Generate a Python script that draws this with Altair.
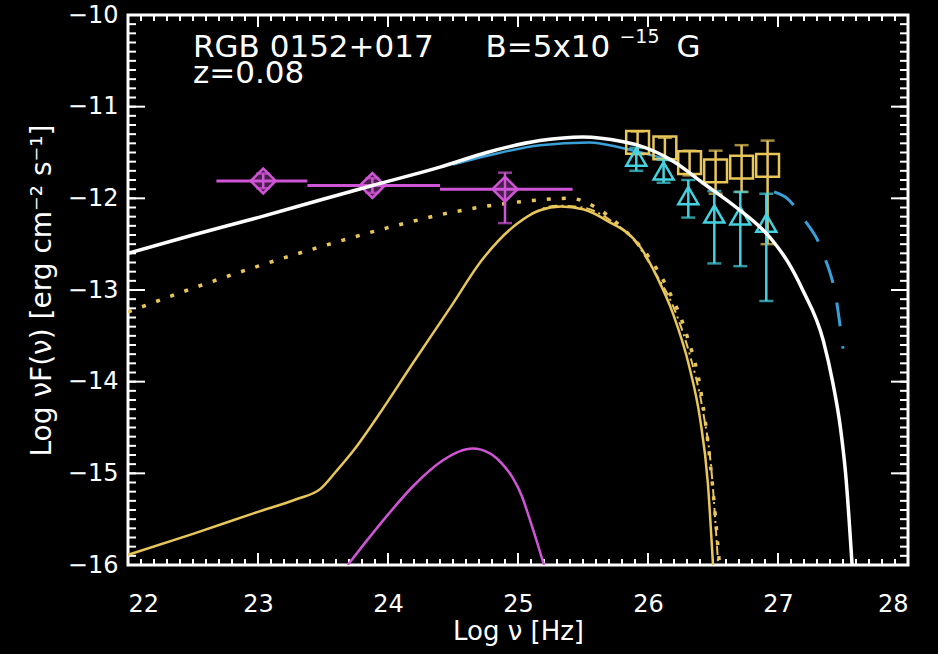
import altair as alt
import pandas as pd

# ---------------- model curves: log nu [Hz] vs log nuF(nu) [erg cm^-2 s^-1] ----------------
total_x = [22.0, 22.5, 23.0, 23.5, 23.88, 24.4, 24.76, 25.17, 25.5, 25.8, 25.92, 26.2, 26.42,
           26.68, 26.94, 27.07, 27.19, 27.35, 27.42, 27.48, 27.52, 27.57]
total_y = [-12.60, -12.40, -12.21, -12.01, -11.86, -11.66, -11.50, -11.37, -11.33, -11.38, -11.42,
           -11.60, -11.83, -12.10, -12.43, -12.68, -13.00, -13.56, -14.00, -14.50, -15.00, -16.00]

cascade_x = [22.0, 22.5, 23.0, 23.3, 23.48, 23.6, 23.73, 23.92, 24.2, 24.48, 24.73, 24.99, 25.17,
             25.33, 25.5, 25.68, 25.94, 26.07, 26.19, 26.32, 26.4, 26.46, 26.5]
cascade_y = [-15.89, -15.66, -15.42, -15.28, -15.17, -14.98, -14.76, -14.38, -13.78, -13.19, -12.66,
             -12.28, -12.13, -12.09, -12.12, -12.24, -12.53, -12.86, -13.25, -13.85, -14.40, -15.10,
             -16.00]

primary_x = [22.0, 22.5, 23.0, 23.5, 24.0, 24.5, 25.0, 25.4, 25.6, 25.8, 26.0, 26.15, 26.3, 26.4,
             26.48, 26.55]
primary_y = [-13.24, -12.98, -12.74, -12.52, -12.32, -12.15, -12.04, -12.00, -12.10, -12.32, -12.63,
             -12.98, -13.50, -14.05, -14.90, -16.00]

dashdot_x = [25.1, 25.3, 25.5, 25.7, 25.9, 26.05, 26.2, 26.32, 26.42, 26.49, 26.54]
dashdot_y = [-12.17, -12.08, -12.10, -12.23, -12.47, -12.80, -13.20, -13.70, -14.30, -15.00, -16.00]

echo_x = [23.69, 24.0, 24.2, 24.42, 24.55, 24.65, 24.78, 24.88, 24.96, 25.03, 25.09, 25.14, 25.2]
echo_y = [-16.0, -15.45, -15.13, -14.86, -14.76, -14.73, -14.78, -14.90, -15.05, -15.25, -15.50,
          -15.72, -16.0]

absorbed_x = [24.5, 24.78, 25.17, 25.55, 25.8, 26.0, 26.2]
absorbed_y = [-11.63, -11.53, -11.42, -11.39, -11.45, -11.52, -11.60]

intrinsic_x = [26.97, 27.07, 27.19, 27.35, 27.45, 27.5]
intrinsic_y = [-11.93, -12.00, -12.21, -12.61, -13.12, -13.64]

# ---------------- measurements ----------------
lat_x = [23.04, 23.88, 24.90]
lat_y = [-11.81, -11.86, -11.90]
lat_xlo = [22.68, 23.38, 24.40]
lat_xhi = [23.38, 24.40, 25.42]
lat_ylo = [-11.89, -11.94, -12.27]
lat_yhi = [-11.73, -11.78, -11.72]

sq_x = [25.92, 26.13, 26.32, 26.52, 26.72, 26.92]
sq_y = [-11.39, -11.45, -11.61, -11.70, -11.66, -11.64]
sq_yhi = [-11.27, -11.34, -11.48, -11.48, -11.42, -11.37]
sq_ylo = [-11.52, -11.57, -11.75, -11.95, -11.93, -12.50]

tri_x = [25.91, 26.12, 26.31, 26.51, 26.71, 26.91]
tri_y = [-11.55, -11.70, -11.97, -12.17, -12.19, -12.27]
tri_yhi = [-11.45, -11.58, -11.80, -11.92, -11.93, -11.95]
tri_ylo = [-11.70, -11.83, -12.21, -12.71, -12.74, -13.12]

x_major = [22, 23, 24, 25, 26, 27, 28]
y_major = [-16, -15, -14, -13, -12, -11, -10]
x_minor = [round(22 + 0.1 * i, 1) for i in range(61)]
y_minor = [round(-16 + 0.1 * i, 1) for i in range(61)]

notes = [["RGB 0152+017", "z=0.08"], "B=5x10", "\u221215", "G"]

FONT = "DejaVu Sans"
WHITE = "#ffffff"
GOLD = "#e8c65a"
MAGENTA = "#cf55d6"
CYAN = "#45d2e0"
BLUE = "#3a9fd6"
W, H = 780, 550

xs = alt.Scale(domain=[22, 28], nice=False, zero=False)
ys = alt.Scale(domain=[-16, -10], nice=False, zero=False)


def xq(field, axis=None):
    return alt.X(field, type="quantitative", scale=xs, axis=axis, title=None)


def yq(field, axis=None):
    return alt.Y(field, type="quantitative", scale=ys, axis=axis, title=None)


def curve(xv, yv, color, width, dash=None):
    df = pd.DataFrame({"x": xv, "y": yv})
    kw = dict(color=color, strokeWidth=width, clip=True, interpolate="monotone")
    if dash:
        kw["strokeDash"] = dash
    return alt.Chart(df).mark_line(**kw).encode(x=xq("x"), y=yq("y"))


# ---------------- axes: tick labels and titles (carried by an invisible layer) ----------------
x_label_axis = alt.Axis(orient="bottom", values=x_major, format="d", ticks=False, tickSize=0,
                        domain=False, grid=False, labelPadding=27, labelFont=FONT,
                        labelFontSize=24, labelColor=WHITE, title="Log \u03bd [Hz]",
                        titleFont=FONT, titleFontSize=26, titleFontWeight="normal",
                        titleColor=WHITE, titlePadding=2)
y_label_axis = alt.Axis(orient="left", values=y_major, format="d", ticks=False, tickSize=0,
                        domain=False, grid=False, labelPadding=10, labelFont=FONT,
                        labelFontSize=24, labelColor=WHITE,
                        title="Log \u03bdF(\u03bd) [erg cm\u207b\u00b2 s\u207b\u00b9]",
                        titleFont=FONT, titleFontSize=28, titleFontWeight="normal",
                        titleColor=WHITE, titlePadding=11)

axis_carrier = alt.Chart(pd.DataFrame({"x": [22.0], "y": [-16.0]})).mark_point(opacity=0).encode(
    x=xq("x", x_label_axis), y=yq("y", y_label_axis))


# ---------------- inward ticks on all four sides ----------------
def xticks(values, y0, y1):
    return alt.Chart(pd.DataFrame({"v": values})).mark_rule(color=WHITE, strokeWidth=2).encode(
        x=xq("v"), y=alt.value(y0), y2=alt.value(y1))


def yticks(values, x0, x1):
    return alt.Chart(pd.DataFrame({"v": values})).mark_rule(color=WHITE, strokeWidth=2).encode(
        y=yq("v"), x=alt.value(x0), x2=alt.value(x1))


frame = [
    xticks(x_major, H, H - 12),
    xticks(x_minor, H, H - 6),
    xticks(x_major, 0, 12),
    xticks(x_minor, 0, 6),
    yticks(y_major, 0, 17),
    yticks(y_minor, 0, 8),
    yticks(y_major, W, W - 17),
    yticks(y_minor, W, W - 8),
]

# ---------------- model layers ----------------
cascade = curve(cascade_x, cascade_y, GOLD, 2.5)
primary = curve(primary_x, primary_y, GOLD, 3.5, [4, 11])
dashdot = curve(dashdot_x, dashdot_y, GOLD, 2, [9, 4, 2, 4])
echo = curve(echo_x, echo_y, MAGENTA, 2.5)
absorbed = curve(absorbed_x, absorbed_y, BLUE, 2.5)
intrinsic = curve(intrinsic_x, intrinsic_y, BLUE, 3, [24, 20])
total = curve(total_x, total_y, WHITE, 3.5)

# ---------------- data layers ----------------
lat = pd.DataFrame({"x": lat_x, "y": lat_y, "xlo": lat_xlo, "xhi": lat_xhi,
                    "ylo": lat_ylo, "yhi": lat_yhi})
lat_caps = pd.DataFrame({"x": lat_x * 2, "y": lat_ylo + lat_yhi})
sq = pd.DataFrame({"x": sq_x, "y": sq_y, "ylo": sq_ylo, "yhi": sq_yhi})
sq_caps = pd.DataFrame({"x": sq_x * 2, "y": sq_ylo + sq_yhi})
tri = pd.DataFrame({"x": tri_x, "y": tri_y, "ylo": tri_ylo, "yhi": tri_yhi})
tri_caps = pd.DataFrame({"x": tri_x * 2, "y": tri_ylo + tri_yhi})


def vbars(df, color):
    return alt.Chart(df).mark_rule(color=color, strokeWidth=2.5, clip=True).encode(
        x=xq("x"), y=yq("ylo"), y2="yhi")


def caps(df, color):
    return alt.Chart(df).mark_tick(color=color, orient="horizontal", size=14, thickness=2.5,
                                   clip=True).encode(x=xq("x"), y=yq("y"))


lat_h = alt.Chart(lat).mark_rule(color=MAGENTA, strokeWidth=3, clip=True).encode(
    x=xq("xlo"), x2="xhi", y=yq("y"))
lat_pts = alt.Chart(lat).mark_point(shape="diamond", size=620, filled=True, fill=MAGENTA,
                                    fillOpacity=0.35, stroke=MAGENTA, strokeWidth=2.5,
                                    clip=True).encode(x=xq("x"), y=yq("y"))
sq_pts = alt.Chart(sq).mark_point(shape="square", size=520, filled=False, color=GOLD,
                                  strokeWidth=2.5, opacity=1, clip=True).encode(x=xq("x"), y=yq("y"))
tri_pts = alt.Chart(tri).mark_point(shape="triangle-up", size=400, filled=False, color=CYAN,
                                    strokeWidth=2.5, opacity=1, clip=True).encode(x=xq("x"), y=yq("y"))


# ---------------- annotation ----------------
def note(text, x, y, size, line_height=None):
    kw = dict(text=text, align="left", baseline="alphabetic", font=FONT, fontSize=size,
              color=WHITE)
    if line_height:
        kw["lineHeight"] = line_height
    return alt.Chart(pd.DataFrame({"a": [0]})).mark_text(**kw).encode(
        x=alt.XDatum(x, scale=xs, axis=None), y=alt.YDatum(y, scale=ys, axis=None))


annotations = [
    note(notes[0], 22.5, -10.455, 31, 26.5),
    note(notes[1], 24.75, -10.455, 31),
    note(notes[2], 25.78, -10.305, 19),
    note(notes[3], 26.22, -10.455, 31),
]

layers = [axis_carrier] + frame + [
    primary, dashdot, cascade, echo, absorbed, intrinsic,
    vbars(sq, GOLD), caps(sq_caps, GOLD), sq_pts,
    vbars(tri, CYAN), caps(tri_caps, CYAN), tri_pts,
    lat_h, vbars(lat, MAGENTA), caps(lat_caps, MAGENTA), lat_pts,
    total,
] + annotations

chart = alt.layer(*layers).resolve_axis(x="independent", y="independent").properties(
    width=W, height=H,
    padding={"left": 128, "top": 15, "right": 30, "bottom": 89},
    autosize=alt.AutoSizeParams(type="none"),
    background="#000000",
).configure_view(stroke=WHITE, strokeWidth=3)

chart.save("out.html", embed_options={"renderer": "svg", "actions": False})
